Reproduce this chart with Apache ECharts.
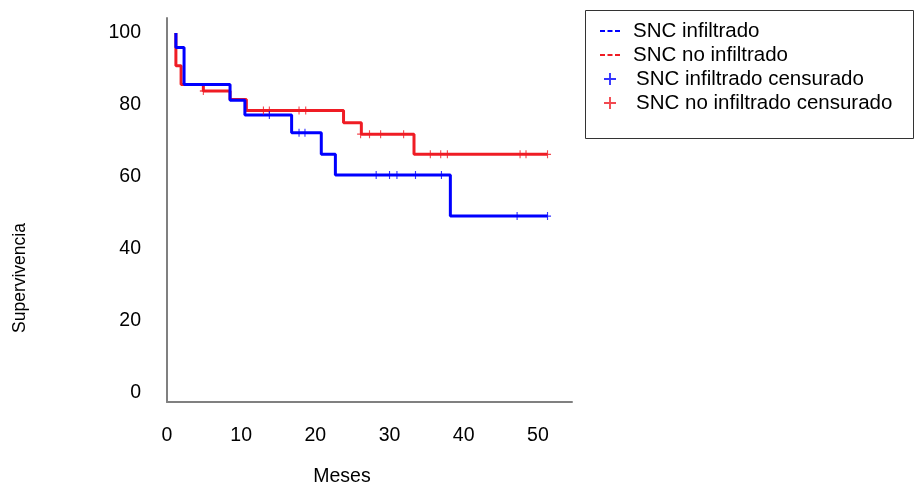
<!DOCTYPE html>
<html>
<head>
<meta charset="utf-8">
<script src="https://cdn.jsdelivr.net/npm/echarts@6/dist/echarts.min.js"></script>
<style>
html, body { margin: 0; padding: 0; background: #fff; }
#main { width: 915px; height: 490px; }
</style>
</head>
<body>
<div id="main"></div>
<script>
// axis ticks
var xTicks = [0, 10, 20, 30, 40, 50];
var yTicks = [0, 20, 40, 60, 80, 100];

// Kaplan-Meier steps: SNC infiltrado (blue)
var infTimes = [1.2, 1.2, 2.3, 8.5, 10.5, 16.8, 20.8, 22.7, 38.2, 51.3];
var infSurv = [100, 96, 85.7, 81.3, 77.2, 72.3, 66.3, 60.5, 49.1, 49.1];
// censored points SNC infiltrado
var infCensTimes = [13.8, 17.8, 18.6, 28.2, 30, 31, 33.5, 37.0, 47.2, 51.3];
var infCensSurv = [77.2, 72.3, 72.3, 60.5, 60.5, 60.5, 60.5, 60.5, 49.1, 49.1];

// Kaplan-Meier steps: SNC no infiltrado (red)
var noTimes = [1.2, 1.2, 1.9, 4.9, 8.5, 10.7, 23.8, 26.2, 33.3, 51.3];
var noSurv = [100, 90.9, 85.7, 83.9, 81.5, 78.5, 75.1, 71.9, 66.3, 66.3];
// censored points SNC no infiltrado
var noCensTimes = [4.9, 13.0, 13.8, 17.8, 18.7, 26.1, 27.3, 28.8, 31.9, 35.5, 36.9, 37.8, 47.6, 48.4, 51.3];
var noCensSurv = [83.9, 78.5, 78.5, 78.5, 78.5, 71.9, 71.9, 71.9, 71.9, 66.3, 66.3, 66.3, 66.3, 66.3, 66.3];

function zip(a, b) {
  return a.map(function (v, i) { return [v, b[i]]; });
}

var BLUE = '#0000ff';
var RED = '#ef1c24';
var FONT = 'Liberation Sans';
var FS = 19.5;
var LFS = 20.5;
var plusPath = 'path://M4.2,0h1.6v10h-1.6z M0,4.2h10v1.6h-10z';
var dashPath = 'path://M0,0h5v2h-5z M7.5,0h5v2h-5z M15,0h5v2h-5z';

var myChart = echarts.init(document.getElementById('main'));
var option = {
  animation: false,
  backgroundColor: '#fff',
  grid: { left: 167, top: 18, right: 343, bottom: 88, containLabel: false },
  xAxis: {
    type: 'value',
    min: 0,
    max: 54.6,
    splitLine: { show: false },
    axisTick: { show: false },
    axisLine: { onZero: false, lineStyle: { color: '#808080', width: 2 } },
    axisLabel: {
      customValues: xTicks,
      margin: 24,
      color: '#000',
      fontSize: FS,
      fontFamily: FONT
    }
  },
  yAxis: {
    type: 'value',
    min: -2.6,
    max: 104.2,
    splitLine: { show: false },
    axisTick: { show: false },
    axisLine: { show: true, onZero: false, lineStyle: { color: '#808080', width: 2 } },
    axisLabel: {
      customValues: yTicks,
      margin: 26,
      color: '#000',
      fontSize: FS,
      fontFamily: FONT
    }
  },
  legend: {
    orient: 'vertical',
    left: 600,
    top: 19,
    padding: 0,
    itemWidth: 20,
    itemHeight: 12,
    itemGap: 0,
    textStyle: { color: '#000', fontSize: LFS, fontFamily: FONT, lineHeight: 24, padding: [0, 0, 0, 8] },
    data: [
      { name: 'SNC infiltrado', icon: dashPath },
      { name: 'SNC no infiltrado', icon: dashPath },
      { name: 'SNC infiltrado censurado', icon: plusPath, textStyle: { padding: [0, 0, 0, 11] } },
      { name: 'SNC no infiltrado censurado', icon: plusPath, textStyle: { padding: [0, 0, 0, 11] } }
    ]
  },
  graphic: [
    {
      type: 'rect',
      shape: { x: 585.5, y: 10.5, width: 328, height: 128 },
      style: { fill: 'none', stroke: '#333', lineWidth: 1 },
      z: 0
    },
    {
      type: 'text',
      x: 342,
      y: 477,
      style: { text: 'Meses', fill: '#000', font: FS + 'px "Liberation Sans"', textAlign: 'center', textVerticalAlign: 'middle' }
    },
    {
      type: 'text',
      x: 20,
      y: 278,
      rotation: Math.PI / 2,
      style: { text: 'Supervivencia', fill: '#000', font: '17.5px "Liberation Sans"', textAlign: 'center', textVerticalAlign: 'middle' }
    }
  ],
  series: [
    {
      name: 'SNC no infiltrado',
      type: 'line',
      step: 'end',
      showSymbol: false,
      data: zip(noTimes, noSurv),
      lineStyle: { color: RED, width: 3 },
      itemStyle: { color: RED },
      z: 2
    },
    {
      name: 'SNC infiltrado',
      type: 'line',
      step: 'end',
      showSymbol: false,
      data: zip(infTimes, infSurv),
      lineStyle: { color: BLUE, width: 3 },
      itemStyle: { color: BLUE },
      z: 3
    },
    {
      name: 'SNC no infiltrado censurado',
      type: 'scatter',
      symbol: plusPath,
      symbolSize: [7, 8],
      data: zip(noCensTimes, noCensSurv),
      itemStyle: { color: RED },
      z: 4
    },
    {
      name: 'SNC infiltrado censurado',
      type: 'scatter',
      symbol: plusPath,
      symbolSize: [7, 8],
      data: zip(infCensTimes, infCensSurv),
      itemStyle: { color: BLUE },
      z: 5
    }
  ]
};
myChart.setOption(option);
</script>
</body>
</html>
